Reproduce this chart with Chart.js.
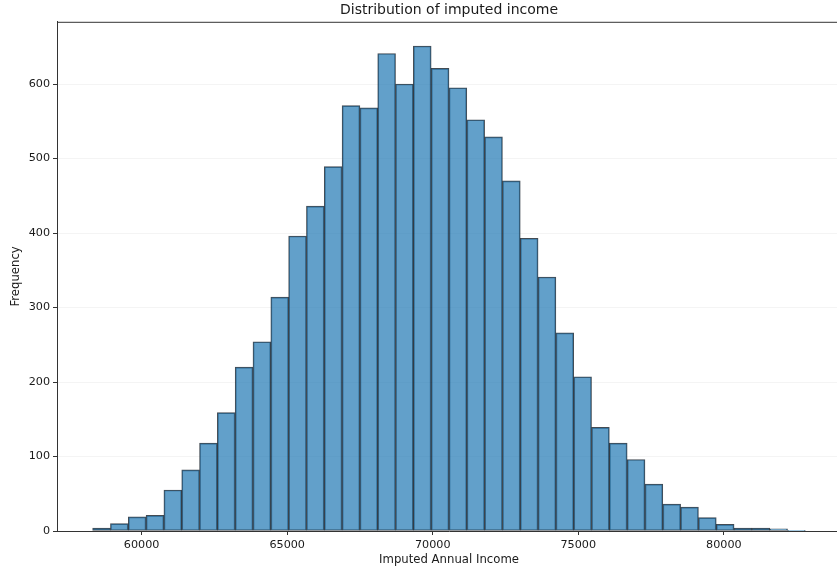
<!DOCTYPE html>
<html>
<head>
<meta charset="utf-8">
<script src="https://cdn.jsdelivr.net/npm/chart.js@4"></script>
<style>
html, body { margin: 0; padding: 0; overflow: hidden; background: #fff; }
#wrap { width: 841px; height: 572px; position: relative; }
</style>
</head>
<body>
<div id="wrap"><canvas id="c" width="841" height="572"></canvas></div>
<script>
// Histogram bins (Imputed Annual Income)
const binStart = 58316;
const binWidth = 612.1;
const counts = [4, 10, 19, 21, 55, 82, 118, 159, 220, 254, 314, 396, 436, 489, 571, 568, 641, 600, 651, 621,
                595, 552, 529, 470, 393, 341, 266, 207, 139, 118, 96, 63, 36, 32, 18, 9, 4, 4, 3, 1];
const xTicks = [60000, 65000, 70000, 75000, 80000];
const yTicks = [0, 100, 200, 300, 400, 500, 600];
const xMin = 57092, xMax = 84025;
const yMax = 683.5;

const points = counts.map((c, i) => ({ x: binStart + binWidth * (i + 0.5), y: c }));
const FONT = 'DejaVu Sans';
const TXT = '#1a1a1a';

const topSpine = {
  id: 'topSpine',
  afterDraw(chart) {
    const { ctx, chartArea: a } = chart;
    ctx.save();
    ctx.strokeStyle = '#333';
    ctx.lineWidth = 1;
    ctx.beginPath();
    ctx.moveTo(a.left, a.top + 0.5);
    ctx.lineTo(a.right, a.top + 0.5);
    ctx.stroke();
    ctx.restore();
  }
};

new Chart(document.getElementById('c'), {
  type: 'bar',
  data: {
    datasets: [{
      data: points,
      backgroundColor: 'rgba(31,119,180,0.7)',
      borderColor: 'rgba(20,30,40,0.8)',
      borderWidth: 1,
      borderSkipped: false,
      barPercentage: 1,
      categoryPercentage: 1
    }]
  },
  plugins: [topSpine],
  options: {
    responsive: false,
    animation: false,
    layout: { padding: 0 },
    plugins: {
      legend: { display: false },
      tooltip: { enabled: false },
      title: {
        display: true,
        text: 'Distribution of imputed income',
        fullSize: false,
        color: TXT,
        font: { family: FONT, size: 14, weight: 'normal', lineHeight: 1.2 },
        padding: { top: 2, bottom: 3 }
      }
    },
    scales: {
      x: {
        type: 'linear',
        min: xMin, max: xMax,
        offset: false,
        afterFit(s) { s.height = 41; },
        afterBuildTicks(s) { s.ticks = xTicks.map(v => ({ value: v })); },
        ticks: {
          color: TXT, padding: 3, maxRotation: 0,
          font: { family: FONT, size: 11.2 },
          callback: v => String(v)
        },
        grid: { display: true, drawOnChartArea: false, offset: false, tickLength: 4, tickColor: '#333' },
        border: { display: true, color: '#333', width: 1 },
        title: {
          display: true, text: 'Imputed Annual Income', color: TXT,
          font: { family: FONT, size: 11.7, lineHeight: 1.2 },
          padding: { top: 0, bottom: 5 }
        }
      },
      y: {
        min: 0, max: yMax,
        afterFit(s) { s.width = 57; },
        afterBuildTicks(s) { s.ticks = yTicks.map(v => ({ value: v })); },
        ticks: {
          color: TXT, padding: 3,
          font: { family: FONT, size: 11.2 },
          callback: v => String(v)
        },
        grid: { color: '#f4f4f4', lineWidth: 1, tickLength: 4, tickColor: '#333' },
        border: { display: true, color: '#333', width: 1 },
        title: {
          display: true, text: 'Frequency', color: TXT,
          font: { family: FONT, size: 11.7, lineHeight: 1.2 },
          padding: { top: 9, bottom: 0 }
        }
      }
    }
  }
});
</script>
</body>
</html>
